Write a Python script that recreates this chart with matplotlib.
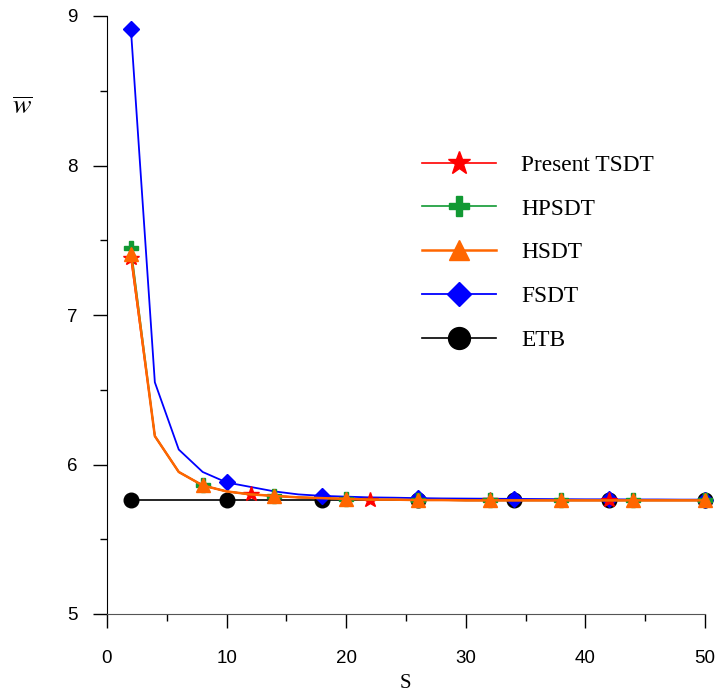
import matplotlib
matplotlib.use("Agg")
import matplotlib.pyplot as plt
from matplotlib.ticker import MultipleLocator

S = [2, 4, 6, 8, 10, 12, 14, 16, 18, 20, 22, 24, 26, 28, 30, 32, 34, 36, 38, 40, 42, 44, 46, 48, 50]
tsdt = [7.38, 6.19, 5.95, 5.86, 5.82, 5.80, 5.79, 5.78, 5.775, 5.77, 5.765, 5.765, 5.762, 5.762, 5.76, 5.76, 5.76, 5.76, 5.76, 5.76, 5.76, 5.76, 5.76, 5.76, 5.76]
hpsdt = [7.45, 6.19, 5.95, 5.86, 5.82, 5.80, 5.79, 5.78, 5.775, 5.77, 5.765, 5.765, 5.762, 5.762, 5.76, 5.76, 5.76, 5.76, 5.76, 5.76, 5.76, 5.76, 5.76, 5.76, 5.76]
hsdt = [7.41, 6.19, 5.95, 5.86, 5.82, 5.80, 5.79, 5.78, 5.775, 5.77, 5.765, 5.765, 5.762, 5.762, 5.76, 5.76, 5.76, 5.76, 5.76, 5.76, 5.76, 5.76, 5.76, 5.76, 5.76]
fsdt = [8.91, 6.55, 6.10, 5.95, 5.88, 5.85, 5.82, 5.80, 5.79, 5.785, 5.78, 5.778, 5.775, 5.773, 5.772, 5.771, 5.77, 5.769, 5.768, 5.767, 5.767, 5.766, 5.766, 5.765, 5.765]
etb = [5.76] * 25

fig = plt.figure(figsize=(7.17, 6.93), dpi=100)
ax = fig.add_axes([107/717, 1-614/693, (705-107)/717, (614-16)/693])

ax.plot(S, etb, color='black', lw=1.2, marker='o', ms=10.5, markevery=4, clip_on=False, label='ETB', zorder=2)
ax.plot(S, fsdt, color='#0000ff', lw=1.3, marker='D', ms=8, markevery=4, clip_on=False, label='FSDT', zorder=3)
ax.plot(S, tsdt, color='#ff0000', lw=1.2, marker='*', ms=11.5, markevery=5, clip_on=False, label='Present TSDT', zorder=4)
ax.plot(S, hpsdt, color='#119933', lw=1.2, marker='P', ms=10, markevery=3, clip_on=False, label='HPSDT', zorder=5)
ax.plot(S, hsdt, color='#ff6600', lw=1.8, marker='^', ms=10, markevery=3, clip_on=False, label='HSDT', zorder=6)

ax.set_xlim(0, 50)
ax.set_ylim(5, 9)
for s in ['top', 'right']:
    ax.spines[s].set_visible(False)
ax.spines['bottom'].set_color('#555555')
ax.spines['left'].set_color('black')

ax.xaxis.set_major_locator(MultipleLocator(10))
ax.xaxis.set_minor_locator(MultipleLocator(5))
ax.yaxis.set_major_locator(MultipleLocator(1))
ax.yaxis.set_minor_locator(MultipleLocator(0.5))
ax.tick_params(axis='x', which='major', direction='out', length=10, width=1, pad=16, labelsize=13.5)
ax.tick_params(axis='x', which='minor', direction='out', length=5, width=1)
ax.tick_params(axis='y', which='major', direction='out', length=10, width=1, pad=11, labelsize=13.5)
ax.tick_params(axis='y', which='minor', direction='out', length=5, width=1)
for lbl in ax.get_xticklabels() + ax.get_yticklabels():
    lbl.set_fontfamily('Liberation Sans')

handles, labels = ax.get_legend_handles_labels()
order = ['Present TSDT', 'HPSDT', 'HSDT', 'FSDT', 'ETB']
hd = dict(zip(labels, handles))
leg = ax.legend([hd[o] for o in order], order, loc='upper left', bbox_to_anchor=(0.4916, 0.8034),
                frameon=False, markerscale=1.5, handlelength=3.17, labelspacing=0.96,
                handletextpad=1.07, prop={'family': 'Liberation Serif', 'size': 16.8})

plt.rcParams['mathtext.fontset'] = 'stix'
fig.text(22/717, 1-106/693, r'$\overline{w}$', fontsize=20, ha='center', va='center')
fig.text(405/717, 1-683/693, 'S', fontsize=15, family='Liberation Serif', ha='center', va='center')

fig.savefig('out.png', dpi=100)
